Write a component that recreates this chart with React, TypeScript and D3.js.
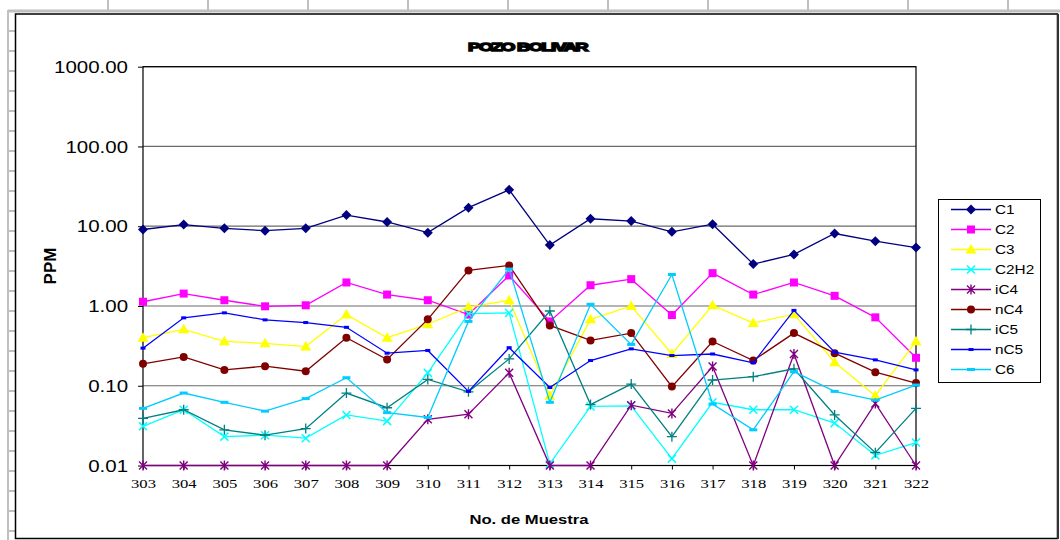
import { useEffect, useRef } from 'react';
import * as d3 from 'd3';

const muestras = ['303', '304', '305', '306', '307', '308', '309', '310', '311', '312', '313', '314', '315', '316', '317', '318', '319', '320', '321', '322'];

const c1 = [9.1, 10.5, 9.4, 8.8, 9.4, 13.8, 11.3, 8.3, 17.1, 28.6, 5.8, 12.4, 11.6, 8.5, 10.6, 3.35, 4.43, 8.1, 6.5, 5.4];
const c2 = [1.13, 1.43, 1.18, 0.99, 1.02, 1.97, 1.39, 1.18, 0.78, 2.41, 0.64, 1.82, 2.17, 0.77, 2.58, 1.39, 1.97, 1.34, 0.72, 0.224];
const c3 = [0.4, 0.51, 0.36, 0.34, 0.31, 0.78, 0.4, 0.59, 0.97, 1.18, 0.075, 0.68, 1.0, 0.25, 1.02, 0.61, 0.79, 0.197, 0.075, 0.36];
const c2h2 = [0.031, 0.05, 0.023, 0.024, 0.022, 0.043, 0.036, 0.145, 0.8, 0.82, 0.0105, 0.055, 0.056, 0.0122, 0.062, 0.05, 0.05, 0.034, 0.0134, 0.0194];
const ic4 = [0.01, 0.01, 0.01, 0.01, 0.01, 0.01, 0.01, 0.038, 0.044, 0.145, 0.01, 0.01, 0.057, 0.045, 0.174, 0.01, 0.25, 0.01, 0.06, 0.01];
const nc4 = [0.188, 0.23, 0.158, 0.176, 0.152, 0.4, 0.213, 0.68, 2.79, 3.22, 0.57, 0.37, 0.457, 0.0975, 0.359, 0.207, 0.457, 0.256, 0.148, 0.108];
const ic5 = [0.039, 0.05, 0.028, 0.024, 0.029, 0.081, 0.053, 0.12, 0.084, 0.217, 0.865, 0.058, 0.105, 0.023, 0.118, 0.13, 0.163, 0.043, 0.0145, 0.052];
const nc5 = [0.296, 0.71, 0.82, 0.67, 0.62, 0.54, 0.256, 0.277, 0.085, 0.3, 0.095, 0.207, 0.29, 0.239, 0.25, 0.194, 0.88, 0.264, 0.211, 0.158];
const c6 = [0.052, 0.081, 0.062, 0.048, 0.069, 0.126, 0.046, 0.04, 0.64, 2.9, 0.062, 1.05, 0.33, 2.48, 0.059, 0.028, 0.15, 0.085, 0.066, 0.102];

const yTicks = [0.01, 0.1, 1, 10, 100, 1000];

const series = [
  { name: 'C1', values: c1, color: '#000080', marker: 'diamond' },
  { name: 'C2', values: c2, color: '#FF00FF', marker: 'square' },
  { name: 'C3', values: c3, color: '#FFFF00', marker: 'triangle' },
  { name: 'C2H2', values: c2h2, color: '#00FFFF', marker: 'x' },
  { name: 'iC4', values: ic4, color: '#800080', marker: 'asterisk' },
  { name: 'nC4', values: nc4, color: '#800000', marker: 'circle' },
  { name: 'iC5', values: ic5, color: '#008080', marker: 'plus' },
  { name: 'nC5', values: nc5, color: '#0000FF', marker: 'dashSmall' },
  { name: 'C6', values: c6, color: '#00CCFF', marker: 'dash' },
];

const FONT = '"Liberation Sans", Arial, sans-serif';
const SX = 1.28; // the original picture is stretched sideways

const drawMarker = (g, type, color, cx, cy) => {
  const m = g.append('g').attr('transform', `translate(${cx},${cy})`);
  switch (type) {
    case 'diamond':
      m.append('path').attr('d', 'M0,-5L5,0L0,5L-5,0Z').attr('fill', color);
      break;
    case 'square':
      m.append('rect').attr('x', -4).attr('y', -4).attr('width', 8).attr('height', 8).attr('fill', color);
      break;
    case 'triangle':
      m.append('path').attr('d', 'M0,-5.5L5.5,4L-5.5,4Z').attr('fill', color);
      break;
    case 'x':
      m.append('path').attr('d', 'M-4,-4L4,4M-4,4L4,-4').attr('stroke', color).attr('stroke-width', 1.5).attr('fill', 'none');
      break;
    case 'asterisk':
      m.append('path').attr('d', 'M-4,-4L4,4M-4,4L4,-4M0,-5L0,5').attr('stroke', color).attr('stroke-width', 1.4).attr('fill', 'none');
      break;
    case 'circle':
      m.append('circle').attr('r', 4).attr('fill', color);
      break;
    case 'plus':
      m.append('path').attr('d', 'M-5,0L5,0M0,-5L0,5').attr('stroke', color).attr('stroke-width', 1.3).attr('fill', 'none');
      break;
    case 'dashSmall':
      m.append('rect').attr('x', -2.5).attr('y', -1.5).attr('width', 5).attr('height', 3).attr('fill', color);
      break;
    case 'dash':
      m.append('rect').attr('x', -4).attr('y', -1.5).attr('width', 8).attr('height', 3).attr('fill', color);
      break;
    default:
      break;
  }
};

export default function App() {
  const svgRef = useRef(null);

  useEffect(() => {
    const width = 1060;
    const height = 540;
    const plot = { left: 143, right: 916, top: 66.7, bottom: 465.5 };

    const svg = d3.select(svgRef.current);
    svg.selectAll('*').remove();
    svg.attr('width', width).attr('height', height);

    svg.append('rect').attr('width', width).attr('height', height).attr('fill', '#fff');

    // spreadsheet cells around the chart object
    const sheet = svg.append('g').attr('stroke', '#c0c0c0');
    sheet.append('line').attr('x1', 8).attr('x2', width).attr('y1', 11).attr('y2', 11).attr('stroke-width', 3);
    d3.range(108, width, 100).forEach(cx => {
      sheet.append('line').attr('x1', cx).attr('x2', cx).attr('y1', 0).attr('y2', 12).attr('stroke-width', 2);
    });
    sheet.append('line').attr('x1', 8).attr('x2', 8).attr('y1', 10).attr('y2', height).attr('stroke-width', 2);
    d3.range(31, height, 20).forEach(ry => {
      sheet.append('line').attr('x1', 8).attr('x2', 15).attr('y1', ry).attr('y2', ry).attr('stroke-width', 2);
    });

    // chart frame
    svg.append('rect')
      .attr('x', 15.5).attr('y', 14)
      .attr('width', 1042).attr('height', 524.5)
      .attr('fill', '#fff').attr('stroke', '#000').attr('stroke-width', 1.5);
    svg.append('line').attr('x1', 1058).attr('x2', 1058).attr('y1', 14).attr('y2', 539).attr('stroke', '#333').attr('stroke-width', 2);

    const x = d3.scalePoint().domain(muestras).range([plot.left, plot.right]);
    const y = d3.scaleLog().domain([0.01, 1000]).range([plot.bottom, plot.top]);

    // gridlines
    svg.append('g')
      .selectAll('line')
      .data(yTicks)
      .join('line')
      .attr('x1', plot.left).attr('x2', plot.right)
      .attr('y1', d => y(d)).attr('y2', d => y(d))
      .attr('stroke', '#6a6a6a').attr('stroke-width', 1.2);

    // y axis
    const yAxis = svg.append('g')
      .attr('transform', `translate(${plot.left},0)`)
      .call(d3.axisLeft(y).tickValues(yTicks).tickFormat(d3.format('.2f')).tickSize(5));
    yAxis.select('.domain').remove();
    yAxis.selectAll('.tick line').attr('stroke', '#000');
    yAxis.selectAll('.tick text')
      .attr('x', -15 / SX)
      .attr('dy', '0.36em')
      .attr('transform', `scale(${SX},1)`)
      .attr('fill', '#000')
      .style('font-family', FONT)
      .style('font-size', '16px');

    // x axis
    const xAxis = svg.append('g')
      .attr('transform', `translate(0,${plot.bottom})`)
      .call(d3.axisBottom(x).tickSize(4));
    xAxis.select('.domain').remove();
    xAxis.selectAll('.tick line').attr('stroke', '#000');
    xAxis.selectAll('.tick text')
      .attr('y', 22.5)
      .attr('dy', 0)
      .attr('transform', `scale(${SX},1)`)
      .attr('fill', '#000')
      .style('font-family', '"Liberation Serif", "Times New Roman", serif')
      .style('font-size', '13px');

    // plot border
    svg.append('rect')
      .attr('x', plot.left).attr('y', plot.top)
      .attr('width', plot.right - plot.left).attr('height', plot.bottom - plot.top)
      .attr('fill', 'none').attr('stroke', '#000').attr('stroke-width', 1.2);

    // series
    const line = d3.line().x((d, i) => x(muestras[i])).y(d => y(d));
    series.forEach(s => {
      const g = svg.append('g');
      g.append('path')
        .attr('d', line(s.values))
        .attr('fill', 'none')
        .attr('stroke', s.color)
        .attr('stroke-width', 1.3);
      s.values.forEach((v, i) => drawMarker(g, s.marker, s.color, x(muestras[i]), y(v)));
    });

    // title (squashed, heavy in the original)
    svg.append('text')
      .attr('x', 468).attr('y', 51)
      .attr('textLength', 119)
      .attr('lengthAdjust', 'spacingAndGlyphs')
      .attr('stroke', '#000').attr('stroke-width', 1.3)
      .attr('letter-spacing', -1)
      .style('font-family', FONT)
      .style('font-weight', 900)
      .style('font-size', '11px')
      .text('POZO BOLIVAR');

    // axis titles
    svg.append('text')
      .attr('transform', 'translate(56,266) rotate(-90)')
      .attr('text-anchor', 'middle')
      .style('font-family', FONT)
      .style('font-weight', 'bold')
      .style('font-size', '17px')
      .text('PPM');

    svg.append('text')
      .attr('transform', `translate(529,524) scale(${SX},1)`)
      .attr('text-anchor', 'middle')
      .style('font-family', FONT)
      .style('font-weight', 'bold')
      .style('font-size', '13px')
      .text('No. de Muestra');

    // legend
    const legend = svg.append('g').attr('transform', 'translate(938,199)');
    legend.append('rect')
      .attr('x', 0.5).attr('y', 0.5)
      .attr('width', 102).attr('height', 183)
      .attr('fill', '#fff').attr('stroke', '#000').attr('stroke-width', 1);
    series.forEach((s, i) => {
      const ly = 10.5 + i * 20;
      const item = legend.append('g');
      item.append('line')
        .attr('x1', 13).attr('x2', 53).attr('y1', ly).attr('y2', ly)
        .attr('stroke', s.color).attr('stroke-width', 1.3);
      drawMarker(item, s.marker, s.color, 33, ly);
      item.append('text')
        .attr('transform', `translate(57,${ly + 4.5}) scale(${SX},1)`)
        .style('font-family', FONT)
        .style('font-size', '12px')
        .text(s.name);
    });
  }, []);

  return (
    <svg
      ref={svgRef}
      width={1060}
      height={540}
      style={{ position: 'absolute', left: 0, top: 0, display: 'block' }}
    />
  );
}
